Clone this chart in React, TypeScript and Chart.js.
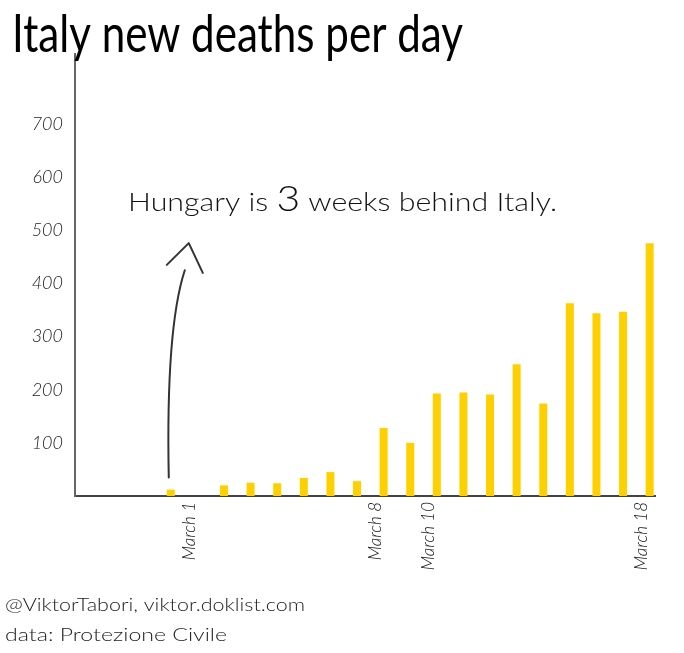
import React, { useEffect, useRef } from 'react';
import { Chart, registerables } from 'chart.js';

Chart.register(...registerables);

const TITLE = 'Italy new deaths per day';
const NOTE_PARTS = ['Hungary is ', '3', ' weeks behind Italy.'];
const CREDITS = ['@ViktorTabori, viktor.doklist.com', 'data: Protezione Civile'];

const DAYS = [
  'Feb 29', 'March 1', 'March 2', 'March 3', 'March 4', 'March 5', 'March 6', 'March 7',
  'March 8', 'March 9', 'March 10', 'March 11', 'March 12', 'March 13', 'March 14',
  'March 15', 'March 16', 'March 17', 'March 18',
];
const NEW_DEATHS = [12, 0, 20, 25, 24, 34, 45, 28, 128, 100, 193, 195, 191, 248, 174, 363, 344, 347, 476];
const LABELED_DAYS = ['March 1', 'March 8', 'March 10', 'March 18'];
const Y_TICKS = [100, 200, 300, 400, 500, 600, 700];

function drawFitted(ctx: CanvasRenderingContext2D, parts: { text: string; font: string }[], x: number, baseline: number, width: number, color: string) {
  ctx.save();
  let total = 0;
  const widths = parts.map((p) => {
    ctx.font = p.font;
    const w = ctx.measureText(p.text).width;
    total += w;
    return w;
  });
  ctx.translate(x, baseline);
  ctx.scale(width / total, 1);
  ctx.fillStyle = color;
  ctx.textAlign = 'left';
  ctx.textBaseline = 'alphabetic';
  let cx = 0;
  parts.forEach((p, i) => {
    ctx.font = p.font;
    ctx.fillText(p.text, cx, 0);
    cx += widths[i];
  });
  ctx.restore();
}

const decorations = {
  id: 'decorations',
  afterDraw(chart: any) {
    const ctx: CanvasRenderingContext2D = chart.ctx;
    const xs = chart.scales.x;
    const ys = chart.scales.y;

    drawFitted(ctx, [{ text: TITLE, font: '52px Lato' }], 12, 52, 451, '#000');

    const noteFont = '300 26px Lato';
    drawFitted(
      ctx,
      [
        { text: NOTE_PARTS[0], font: noteFont },
        { text: NOTE_PARTS[1], font: '300 35px Lato' },
        { text: NOTE_PARTS[2], font: noteFont },
      ],
      128, 211, 429, '#111'
    );

    drawFitted(ctx, [{ text: CREDITS[0], font: '300 18px Lato' }], 5, 611, 300, '#222');
    drawFitted(ctx, [{ text: CREDITS[1], font: '300 18px Lato' }], 5, 641, 222, '#222');

    // arrow pointing up from the first bar
    const bx = xs.getPixelForValue(0);
    const y0 = ys.getPixelForValue(35);
    const y1 = ys.getPixelForValue(425);
    ctx.save();
    ctx.strokeStyle = '#333';
    ctx.lineWidth = 2;
    ctx.lineCap = 'round';
    ctx.lineJoin = 'round';
    ctx.beginPath();
    ctx.moveTo(bx - 2, y0);
    ctx.bezierCurveTo(bx - 4, ys.getPixelForValue(220), bx + 1, ys.getPixelForValue(350), bx + 14, y1);
    ctx.stroke();
    ctx.beginPath();
    ctx.moveTo(bx - 4, ys.getPixelForValue(435));
    ctx.lineTo(bx + 18, ys.getPixelForValue(476));
    ctx.lineTo(bx + 32, ys.getPixelForValue(420));
    ctx.stroke();
    ctx.restore();
  },
};

export default function App() {
  const ref = useRef<HTMLCanvasElement>(null);
  useEffect(() => {
    const canvas = ref.current!;
    const chart = new Chart(canvas, {
      type: 'bar',
      data: {
        datasets: [
          {
            data: DAYS.map((d, i) => ({ x: i, y: NEW_DEATHS[i] })),
            backgroundColor: '#FFD000',
            borderWidth: 0,
            inflateAmount: 0,
            barThickness: 8,
          } as any,
        ],
      },
      options: {
        responsive: false,
        animation: false,
        devicePixelRatio: 1,
        layout: { padding: { top: 54, right: 29, bottom: 57, left: 0 } },
        plugins: { legend: { display: false }, tooltip: { enabled: false } },
        scales: {
          x: {
            type: 'linear',
            offset: false,
            min: -3.6,
            max: 18.2,
            grid: { display: false, drawTicks: false },
            border: { display: true, color: '#444', width: 2 },
            afterBuildTicks: (s: any) => {
              s.ticks = LABELED_DAYS.map((d) => ({ value: DAYS.indexOf(d) }));
            },
            afterFit: (s: any) => {
              s.height = 100;
            },
            ticks: {
              autoSkip: false,
              minRotation: 90,
              maxRotation: 90,
              labelOffset: -8,
              padding: 6,
              color: '#111',
              font: { family: 'Lato', size: 17, style: 'italic', weight: '300' },
              callback: (v: any) => DAYS[v] ?? '',
            },
          },
          y: {
            min: 0,
            max: 832,
            grid: { display: false, drawTicks: false },
            border: { display: true, color: '#666', width: 2 },
            afterBuildTicks: (s: any) => {
              s.ticks = Y_TICKS.map((v) => ({ value: v }));
            },
            afterFit: (s: any) => {
              s.width = 75;
            },
            ticks: {
              padding: 12,
              color: '#222',
              font: { family: 'Lato', size: 18, style: 'italic', weight: '300' },
            },
          },
        },
      } as any,
      plugins: [decorations],
    });
    return () => chart.destroy();
  }, []);
  return (
    <div style={{ position: 'fixed', left: 0, top: 0, width: 684, height: 653, background: '#fff' }}>
      <canvas ref={ref} width={684} height={653} style={{ display: 'block' }} />
    </div>
  );
}
